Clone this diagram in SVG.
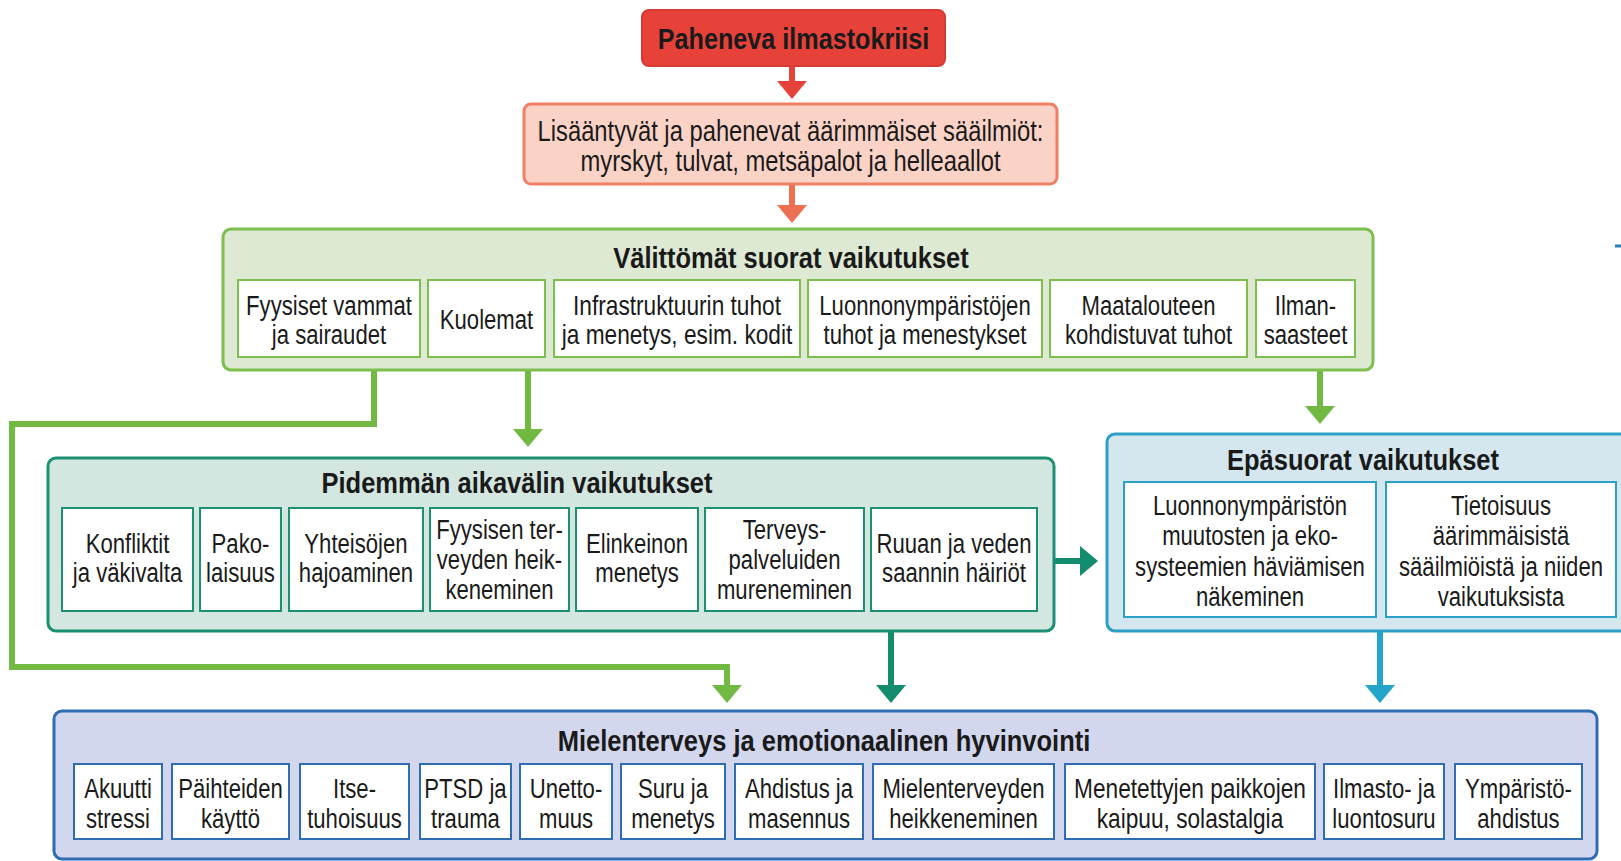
<svg xmlns="http://www.w3.org/2000/svg" width="1621" height="861" viewBox="0 0 1621 861">
<style>
text{font-family:"Liberation Sans",Arial,sans-serif;fill:#1a1a1a;text-anchor:middle}
.t{font-size:28px}
.h{font-size:30px;font-weight:bold}
.s{font-size:29px}
.sub{fill:#fff;stroke-width:2}
.g{stroke:#7cbf4e}
.tl{stroke:#1b9073}
.bl{stroke:#2c9fc4}
.pu{stroke:#2f6db3}
.con{fill:none;stroke-width:6;stroke-linejoin:miter}
</style>
<defs>
<marker id="aR" viewBox="0 0 18 30" markerUnits="userSpaceOnUse" markerWidth="18" markerHeight="30" refX="3" refY="15" orient="auto"><path d="M0,0 L18,15 L0,30 z" fill="#e6423a"/></marker>
<marker id="aS" viewBox="0 0 18 30" markerUnits="userSpaceOnUse" markerWidth="18" markerHeight="30" refX="3" refY="15" orient="auto"><path d="M0,0 L18,15 L0,30 z" fill="#ee7052"/></marker>
<marker id="aG" viewBox="0 0 18 30" markerUnits="userSpaceOnUse" markerWidth="18" markerHeight="30" refX="3" refY="15" orient="auto"><path d="M0,0 L18,15 L0,30 z" fill="#72b944"/></marker>
<marker id="aT" viewBox="0 0 18 30" markerUnits="userSpaceOnUse" markerWidth="18" markerHeight="30" refX="3" refY="15" orient="auto"><path d="M0,0 L18,15 L0,30 z" fill="#138c6d"/></marker>
<marker id="aB" viewBox="0 0 18 30" markerUnits="userSpaceOnUse" markerWidth="18" markerHeight="30" refX="3" refY="15" orient="auto"><path d="M0,0 L18,15 L0,30 z" fill="#25a4ca"/></marker>
</defs>
<rect width="1621" height="861" fill="#fff"/>

<g id="connectors">
<path class="con" stroke="#e6423a" d="M792,66 V84" marker-end="url(#aR)"/>
<path class="con" stroke="#ee7052" d="M792,184 V208" marker-end="url(#aS)"/>
<path class="con" stroke="#72b944" stroke-width="7" d="M374,370 V424 H12 V667 H727 V688" marker-end="url(#aG)"/>
<path class="con" stroke="#72b944" d="M528,370 V432" marker-end="url(#aG)"/>
<path class="con" stroke="#72b944" d="M1320,370 V409" marker-end="url(#aG)"/>
<path class="con" stroke="#138c6d" stroke-width="7" d="M1054,561 H1083" marker-end="url(#aT)"/>
<path class="con" stroke="#138c6d" d="M891,631 V688" marker-end="url(#aT)"/>
<path class="con" stroke="#25a4ca" d="M1380,631 V688" marker-end="url(#aB)"/>
<path d="M1615,246 H1621" stroke="#2a7fb5" stroke-width="3"/>
</g>

<g id="crisis">
<rect x="642" y="10" width="303" height="56" rx="7" fill="#e6423a" stroke="#d63a33" stroke-width="2"/>
<text class="h" transform="translate(793.5,0) scale(0.84,1)"><tspan x="0" y="49">Paheneva ilmastokriisi</tspan></text>
</g>

<g id="weather">
<rect x="524" y="104" width="533" height="80" rx="7" fill="#fbd3c6" stroke="#f07f63" stroke-width="3"/>
<text class="s" transform="translate(790.5,0) scale(0.82,1)"><tspan x="0" y="141">Lisääntyvät ja pahenevat äärimmäiset sääilmiöt:</tspan><tspan x="0" y="171">myrskyt, tulvat, metsäpalot ja helleaallot</tspan></text>
</g>

<g id="direct">
<rect x="223" y="229" width="1150" height="141" rx="8" fill="#dde9d3" stroke="#7cbf4e" stroke-width="3"/>
<text class="h" transform="translate(791,0) scale(0.85,1)"><tspan x="0" y="268">Välittömät suorat vaikutukset</tspan></text>
<g id="d1"><rect class="sub g" x="238" y="280" width="182" height="77"/><text class="t" transform="translate(329,0) scale(0.79,1)"><tspan x="0" y="315">Fyysiset vammat</tspan><tspan x="0" y="344">ja sairaudet</tspan></text></g>
<g id="d2"><rect class="sub g" x="428" y="280" width="117" height="77"/><text class="t" transform="translate(486.5,0) scale(0.79,1)"><tspan x="0" y="329">Kuolemat</tspan></text></g>
<g id="d3"><rect class="sub g" x="554" y="280" width="246" height="77"/><text class="t" transform="translate(677,0) scale(0.81,1)"><tspan x="0" y="315">Infrastruktuurin tuhot</tspan><tspan x="0" y="344">ja menetys, esim. kodit</tspan></text></g>
<g id="d4"><rect class="sub g" x="808" y="280" width="234" height="77"/><text class="t" transform="translate(925,0) scale(0.79,1)"><tspan x="0" y="315">Luonnonympäristöjen</tspan><tspan x="0" y="344">tuhot ja menestykset</tspan></text></g>
<g id="d5"><rect class="sub g" x="1050" y="280" width="197" height="77"/><text class="t" transform="translate(1148.5,0) scale(0.79,1)"><tspan x="0" y="315">Maatalouteen</tspan><tspan x="0" y="344">kohdistuvat tuhot</tspan></text></g>
<g id="d6"><rect class="sub g" x="1256" y="280" width="99" height="77"/><text class="t" transform="translate(1305.5,0) scale(0.79,1)"><tspan x="0" y="315">Ilman-</tspan><tspan x="0" y="344">saasteet</tspan></text></g>
</g>

<g id="longterm">
<rect x="48" y="458" width="1006" height="173" rx="8" fill="#d3e6e0" stroke="#1b9073" stroke-width="3"/>
<text class="h" transform="translate(517,0) scale(0.85,1)"><tspan x="0" y="493">Pidemmän aikavälin vaikutukset</tspan></text>
<g id="l1"><rect class="sub tl" x="62" y="508" width="131" height="103"/><text class="t" transform="translate(127.5,0) scale(0.79,1)"><tspan x="0" y="553">Konfliktit</tspan><tspan x="0" y="582">ja väkivalta</tspan></text></g>
<g id="l2"><rect class="sub tl" x="200" y="508" width="81" height="103"/><text class="t" transform="translate(240.5,0) scale(0.79,1)"><tspan x="0" y="553">Pako-</tspan><tspan x="0" y="582">laisuus</tspan></text></g>
<g id="l3"><rect class="sub tl" x="289" y="508" width="134" height="103"/><text class="t" transform="translate(356,0) scale(0.79,1)"><tspan x="0" y="553">Yhteisöjen</tspan><tspan x="0" y="582">hajoaminen</tspan></text></g>
<g id="l4"><rect class="sub tl" x="430" y="508" width="139" height="103"/><text class="t" transform="translate(499.5,0) scale(0.79,1)"><tspan x="0" y="539">Fyysisen ter-</tspan><tspan x="0" y="569">veyden heik-</tspan><tspan x="0" y="599">keneminen</tspan></text></g>
<g id="l5"><rect class="sub tl" x="576" y="508" width="122" height="103"/><text class="t" transform="translate(637,0) scale(0.79,1)"><tspan x="0" y="553">Elinkeinon</tspan><tspan x="0" y="582">menetys</tspan></text></g>
<g id="l6"><rect class="sub tl" x="705" y="508" width="159" height="103"/><text class="t" transform="translate(784.5,0) scale(0.79,1)"><tspan x="0" y="539">Terveys-</tspan><tspan x="0" y="569">palveluiden</tspan><tspan x="0" y="599">mureneminen</tspan></text></g>
<g id="l7"><rect class="sub tl" x="871" y="508" width="166" height="103"/><text class="t" transform="translate(954,0) scale(0.79,1)"><tspan x="0" y="553">Ruuan ja veden</tspan><tspan x="0" y="582">saannin häiriöt</tspan></text></g>
</g>

<g id="indirect">
<rect x="1107" y="434" width="540" height="197" rx="8" fill="#d4e7ef" stroke="#2c9fc4" stroke-width="3"/>
<text class="h" transform="translate(1363,0) scale(0.85,1)"><tspan x="0" y="470">Epäsuorat vaikutukset</tspan></text>
<g id="i1"><rect class="sub bl" x="1124" y="482" width="252" height="135"/><text class="t" transform="translate(1250,0) scale(0.79,1)"><tspan x="0" y="515">Luonnonympäristön</tspan><tspan x="0" y="545">muutosten ja eko-</tspan><tspan x="0" y="576">systeemien häviämisen</tspan><tspan x="0" y="606">näkeminen</tspan></text></g>
<g id="i2"><rect class="sub bl" x="1386" y="482" width="230" height="135"/><text class="t" transform="translate(1501,0) scale(0.79,1)"><tspan x="0" y="515">Tietoisuus</tspan><tspan x="0" y="545">äärimmäisistä</tspan><tspan x="0" y="576">sääilmiöistä ja niiden</tspan><tspan x="0" y="606">vaikutuksista</tspan></text></g>
</g>

<g id="mental">
<rect x="54" y="711" width="1543" height="148" rx="8" fill="#d2d7ee" stroke="#2f6db3" stroke-width="3"/>
<text class="h" transform="translate(824,0) scale(0.85,1)"><tspan x="0" y="751">Mielenterveys ja emotionaalinen hyvinvointi</tspan></text>
<g id="m1"><rect class="sub pu" x="74" y="764" width="88" height="75"/><text class="t" transform="translate(118,0) scale(0.79,1)"><tspan x="0" y="798">Akuutti</tspan><tspan x="0" y="828">stressi</tspan></text></g>
<g id="m2"><rect class="sub pu" x="172" y="764" width="117" height="75"/><text class="t" transform="translate(230.5,0) scale(0.79,1)"><tspan x="0" y="798">Päihteiden</tspan><tspan x="0" y="828">käyttö</tspan></text></g>
<g id="m3"><rect class="sub pu" x="300" y="764" width="109" height="75"/><text class="t" transform="translate(354.5,0) scale(0.79,1)"><tspan x="0" y="798">Itse-</tspan><tspan x="0" y="828">tuhoisuus</tspan></text></g>
<g id="m4"><rect class="sub pu" x="420" y="764" width="91" height="75"/><text class="t" transform="translate(465.5,0) scale(0.79,1)"><tspan x="0" y="798">PTSD ja</tspan><tspan x="0" y="828">trauma</tspan></text></g>
<g id="m5"><rect class="sub pu" x="520" y="764" width="92" height="75"/><text class="t" transform="translate(566,0) scale(0.79,1)"><tspan x="0" y="798">Unetto-</tspan><tspan x="0" y="828">muus</tspan></text></g>
<g id="m6"><rect class="sub pu" x="621" y="764" width="104" height="75"/><text class="t" transform="translate(673,0) scale(0.79,1)"><tspan x="0" y="798">Suru ja</tspan><tspan x="0" y="828">menetys</tspan></text></g>
<g id="m7"><rect class="sub pu" x="735" y="764" width="128" height="75"/><text class="t" transform="translate(799,0) scale(0.79,1)"><tspan x="0" y="798">Ahdistus ja</tspan><tspan x="0" y="828">masennus</tspan></text></g>
<g id="m8"><rect class="sub pu" x="873" y="764" width="181" height="75"/><text class="t" transform="translate(963.5,0) scale(0.79,1)"><tspan x="0" y="798">Mielenterveyden</tspan><tspan x="0" y="828">heikkeneminen</tspan></text></g>
<g id="m9"><rect class="sub pu" x="1065" y="764" width="250" height="75"/><text class="t" transform="translate(1190,0) scale(0.81,1)"><tspan x="0" y="798">Menetettyjen paikkojen</tspan><tspan x="0" y="828">kaipuu, solastalgia</tspan></text></g>
<g id="m10"><rect class="sub pu" x="1324" y="764" width="120" height="75"/><text class="t" transform="translate(1384,0) scale(0.79,1)"><tspan x="0" y="798">Ilmasto- ja</tspan><tspan x="0" y="828">luontosuru</tspan></text></g>
<g id="m11"><rect class="sub pu" x="1455" y="764" width="127" height="75"/><text class="t" transform="translate(1518.5,0) scale(0.79,1)"><tspan x="0" y="798">Ympäristö-</tspan><tspan x="0" y="828">ahdistus</tspan></text></g>
</g>
</svg>
